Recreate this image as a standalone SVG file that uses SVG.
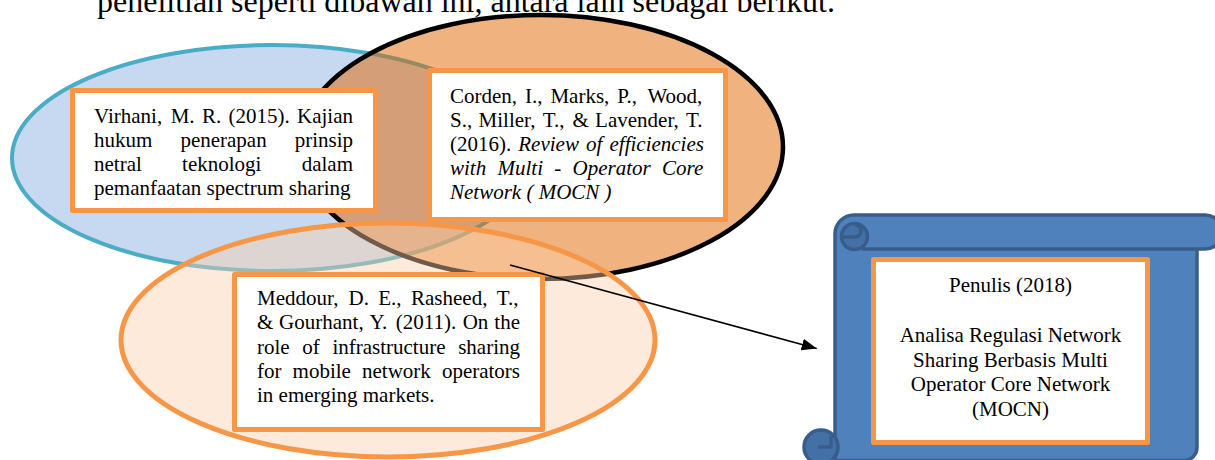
<svg xmlns="http://www.w3.org/2000/svg" width="1215" height="460" viewBox="0 0 1215 460">
<defs>
<style>
.t{font-family:"Liberation Serif","Times New Roman",serif;font-size:21px;fill:#000}
.i{font-style:italic}
.top{font-family:"Liberation Serif","Times New Roman",serif;font-size:32px;fill:#000}
.box{fill:#fff;stroke:#f79646;stroke-width:5;stroke-linejoin:round}
.sc{stroke:#385d8a;stroke-width:3.5;stroke-linejoin:round}
</style>
<marker id="arrow" markerUnits="userSpaceOnUse" markerWidth="16" markerHeight="12" refX="15" refY="6" orient="auto">
<path d="M0,0 L15,6 L0,12 Z" fill="#000"/>
</marker>
</defs>
<rect width="1215" height="460" fill="#fff"/>
<text class="top" x="97" y="12" textLength="738" lengthAdjust="spacing">penelitian seperti dibawah ini, antara lain sebagai berikut.</text>
<g id="circles">
<ellipse id="c-virhani" cx="272" cy="158" rx="260" ry="113" fill="#c6d9f1" stroke="#4bacc6" stroke-width="4"/>
<ellipse id="c-corden" cx="541" cy="147" rx="242" ry="132" fill="#e16500" fill-opacity="0.5" stroke="#000" stroke-width="4.5"/>
<ellipse id="c-meddour" cx="388" cy="340" rx="267" ry="117" fill="#facfab" fill-opacity="0.44" stroke="#f79646" stroke-width="5"/>
</g>
<g id="n-virhani">
<rect class="box" x="72.5" y="90.5" width="303" height="120"/>
<text class="t" y="123"><tspan x="94">Virhani,</tspan><tspan x="170.7">M.</tspan><tspan x="201.9">R.</tspan><tspan x="228.5">(2015).</tspan><tspan x="297">Kajian</tspan></text>
<text class="t" y="147"><tspan x="94">hukum</tspan><tspan x="180.4">penerapan</tspan><tspan x="294.7">prinsip</tspan></text>
<text class="t" y="171"><tspan x="94">netral</tspan><tspan x="182.1">teknologi</tspan><tspan x="301.7">dalam</tspan></text>
<text class="t" x="94" y="195">pemanfaatan spectrum sharing</text>
</g>
<g id="n-corden">
<rect class="box" x="429.5" y="70.5" width="296" height="149"/>
<text class="t" y="103"><tspan x="450">Corden,</tspan><tspan x="525">I.,</tspan><tspan x="550.4">Marks,</tspan><tspan x="617.2">P.,</tspan><tspan x="647.4">Wood,</tspan></text>
<text class="t" y="127"><tspan x="450">S.,</tspan><tspan x="478.6">Miller,</tspan><tspan x="542.7">T.,</tspan><tspan x="572.4">&amp;</tspan><tspan x="595.1">Lavender,</tspan><tspan x="685.9">T.</tspan></text>
<text class="t" y="151"><tspan x="450">(2016).</tspan><tspan class="i" x="518.3">Review</tspan><tspan class="i" x="586">of</tspan><tspan class="i" x="609.5">efficiencies</tspan></text>
<text class="t i" y="175"><tspan x="450">with</tspan><tspan x="497.5">Multi</tspan><tspan x="554.3">-</tspan><tspan x="572.6">Operator</tspan><tspan x="662">Core</tspan></text>
<text class="t i" x="450" y="199">Network ( MOCN )</text>
</g>
<g id="n-meddour">
<rect class="box" x="234.5" y="274.5" width="308" height="155"/>
<text class="t" y="305"><tspan x="257">Meddour,</tspan><tspan x="348.6">D.</tspan><tspan x="378.3">E.,</tspan><tspan x="411">Rasheed,</tspan><tspan x="496.7">T.,</tspan></text>
<text class="t" y="329"><tspan x="257">&amp;</tspan><tspan x="279.1">Gourhant,</tspan><tspan x="369.5">Y.</tspan><tspan x="395.7">(2011).</tspan><tspan x="462.7">On</tspan><tspan x="494.3">the</tspan></text>
<text class="t" y="353.5"><tspan x="257">role</tspan><tspan x="302.3">of</tspan><tspan x="332.4">infrastructure</tspan><tspan x="458.2">sharing</tspan></text>
<text class="t" y="377.5"><tspan x="257">for</tspan><tspan x="292.6">mobile</tspan><tspan x="362">network</tspan><tspan x="441.9">operators</tspan></text>
<text class="t" x="257" y="402">in emerging markets.</text>
</g>
<g id="n-penulis">
<path class="sc" d="M835,234 A19,19 0 0 1 854,215 H1205 A17,17 0 0 1 1205,249 H1197 V447 A13,13 0 0 1 1184,460.5 H835 Z" fill="#4f81bd"/>
<path class="sc" d="M862,249 H1197" fill="none"/>
<circle class="sc" cx="854.5" cy="236.5" r="13" fill="#4470a8"/>
<path class="sc" d="M842,237 H855 A6,6 0 0 0 855,225" fill="none" stroke-width="3"/>
<circle class="sc" cx="821" cy="447" r="17" fill="#4470a8"/>
<path class="sc" d="M818,447 H831 V436" fill="none" stroke-width="3"/>
<rect class="box" x="873.5" y="259.5" width="274" height="183"/>
<text class="t" text-anchor="middle" x="1010.5" y="292">Penulis (2018)</text>
<text class="t" text-anchor="middle" x="1010.5" y="342">Analisa Regulasi Network</text>
<text class="t" text-anchor="middle" x="1010.5" y="366.5">Sharing Berbasis Multi</text>
<text class="t" text-anchor="middle" x="1010.5" y="391">Operator Core Network</text>
<text class="t" text-anchor="middle" x="1010.5" y="415.5">(MOCN)</text>
</g>
<g id="connectors">
<line x1="510" y1="265" x2="816.7" y2="348.5" stroke="#000" stroke-width="1.5" marker-end="url(#arrow)"/>
</g>
</svg>
